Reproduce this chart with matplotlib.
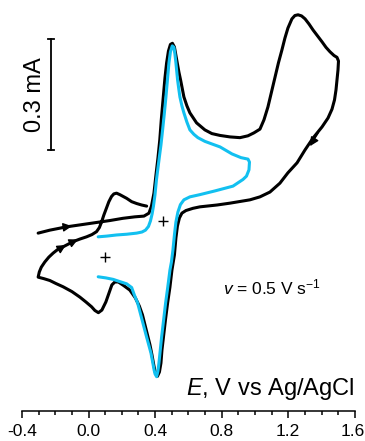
import numpy as np
import matplotlib
matplotlib.use("Agg")
import matplotlib.pyplot as plt
import matplotlib.transforms as mtransforms

plt.rcParams['font.family'] = ['Liberation Sans', 'DejaVu Sans']
plt.rcParams['mathtext.fontset'] = 'custom'
plt.rcParams['mathtext.rm'] = 'Liberation Sans'
plt.rcParams['mathtext.it'] = 'Liberation Sans:italic'
plt.rcParams['axes.unicode_minus'] = False

# black CV: scan from -0.3 V up to 1.5 V, back to -0.3 V, then second scan up to 0.35 V
black_E = [-0.303, -0.233, -0.132, -0.040, 0.048, 0.128, 0.206, 0.278, 0.333, 0.363,
           0.378, 0.393, 0.405, 0.417, 0.428, 0.437, 0.449, 0.459, 0.469, 0.480,
           0.492, 0.504, 0.516, 0.525, 0.533, 0.543, 0.553, 0.573, 0.591, 0.609,
           0.649, 0.699, 0.741, 0.790, 0.850, 0.910, 0.958, 0.994, 1.030, 1.054,
           1.078, 1.099, 1.120, 1.141, 1.162, 1.180, 1.198, 1.222, 1.240, 1.259,
           1.280, 1.301, 1.325, 1.349, 1.376, 1.403, 1.427, 1.451, 1.475, 1.493,
           1.502, 1.499, 1.493, 1.487, 1.478, 1.463, 1.439, 1.403, 1.349, 1.301,
           1.253, 1.198, 1.150, 1.090, 1.030, 0.970, 0.850, 0.772, 0.669, 0.627,
           0.585, 0.561, 0.546, 0.534, 0.525, 0.516, 0.501, 0.489, 0.475, 0.462,
           0.450, 0.441, 0.435, 0.426, 0.414, 0.402, 0.393, 0.381, 0.369, 0.354,
           0.339, 0.324, 0.305, 0.281, 0.248, 0.212, 0.179, 0.158, 0.140, 0.125,
           0.104, 0.080, 0.059, 0.038, 0.018, -0.016, -0.052, -0.100, -0.153, -0.197,
           -0.233, -0.269, -0.303,
           -0.296, -0.284, -0.263, -0.239, -0.213, -0.185, -0.153, -0.093, -0.052, -0.012,
           0.020, 0.048, 0.065, 0.078, 0.092, 0.108, 0.122, 0.138, 0.152, 0.168,
           0.188, 0.229, 0.259, 0.289, 0.319, 0.349]
black_I = [-0.049, -0.041, -0.032, -0.026, -0.020, -0.015, -0.009, -0.005, -0.003, 0.005,
           0.024, 0.059, 0.108, 0.154, 0.203, 0.257, 0.319, 0.370, 0.411, 0.443,
           0.461, 0.464, 0.454, 0.432, 0.411, 0.386, 0.365, 0.319, 0.295, 0.276,
           0.249, 0.230, 0.220, 0.215, 0.211, 0.209, 0.214, 0.222, 0.232, 0.257,
           0.292, 0.332, 0.373, 0.411, 0.446, 0.478, 0.505, 0.530, 0.539, 0.541,
           0.538, 0.530, 0.516, 0.500, 0.484, 0.468, 0.453, 0.441, 0.431, 0.426,
           0.416, 0.392, 0.365, 0.338, 0.311, 0.286, 0.262, 0.238, 0.208, 0.176,
           0.141, 0.114, 0.086, 0.062, 0.049, 0.041, 0.032, 0.027, 0.022, 0.018,
           0.012, 0.005, -0.008, -0.030, -0.062, -0.108, -0.149, -0.195, -0.238, -0.284,
           -0.330, -0.365, -0.400, -0.424, -0.436, -0.427, -0.408, -0.378, -0.351, -0.324,
           -0.297, -0.270, -0.246, -0.224, -0.203, -0.191, -0.181, -0.181, -0.189, -0.208,
           -0.235, -0.257, -0.264, -0.258, -0.248, -0.235, -0.222, -0.207, -0.194, -0.185,
           -0.177, -0.172, -0.168,
           -0.154, -0.141, -0.127, -0.114, -0.103, -0.093, -0.086, -0.072, -0.065, -0.059,
           -0.053, -0.045, -0.034, -0.019, 0.000, 0.019, 0.036, 0.050, 0.057, 0.059,
           0.055, 0.045, 0.036, 0.031, 0.027, 0.024]

# cyan CV: 0.06 V to 0.97 V
cyan_E = [0.058, 0.110, 0.168, 0.229, 0.289, 0.321, 0.342, 0.360, 0.372, 0.382,
          0.390, 0.399, 0.408, 0.417, 0.427, 0.435, 0.445, 0.455, 0.465, 0.474,
          0.483, 0.492, 0.503, 0.513, 0.519, 0.525, 0.535, 0.543, 0.549, 0.561,
          0.573, 0.591, 0.609, 0.633, 0.657, 0.699, 0.741, 0.790, 0.862, 0.916,
          0.958, 0.967, 0.964, 0.949, 0.928, 0.868, 0.759, 0.669, 0.609, 0.573,
          0.552, 0.537, 0.525, 0.516, 0.507, 0.498, 0.489, 0.476, 0.463, 0.451,
          0.439, 0.431, 0.423, 0.417, 0.409, 0.400, 0.394, 0.385, 0.375, 0.349,
          0.322, 0.295, 0.275, 0.259, 0.229, 0.188, 0.148, 0.104, 0.058]
cyan_I = [-0.059, -0.057, -0.054, -0.052, -0.049, -0.046, -0.041, -0.031, -0.016, 0.003,
          0.024, 0.054, 0.095, 0.127, 0.162, 0.189, 0.230, 0.273, 0.319, 0.365,
          0.411, 0.441, 0.457, 0.453, 0.435, 0.411, 0.365, 0.338, 0.319, 0.295,
          0.276, 0.251, 0.230, 0.218, 0.209, 0.199, 0.192, 0.184, 0.165, 0.155,
          0.151, 0.143, 0.122, 0.105, 0.096, 0.078, 0.065, 0.055, 0.049, 0.041,
          0.028, 0.008, -0.019, -0.054, -0.095, -0.127, -0.149, -0.195, -0.238, -0.284,
          -0.330, -0.365, -0.400, -0.422, -0.437, -0.430, -0.419, -0.397, -0.373, -0.330,
          -0.284, -0.238, -0.216, -0.196, -0.186, -0.180, -0.174, -0.170, -0.167]

# scan direction arrows (tail, tip)
arrows = [((-0.180, -0.035), (-0.100, -0.030)),
          ((-0.195, -0.097), (-0.136, -0.081)),
          ((-0.120, -0.078), (-0.064, -0.066)),
          ((1.379, 0.221), (1.331, 0.186))]

plus_E = [0.447, 0.098]
plus_I = [-0.016, -0.114]

xticks = [-0.4, 0.0, 0.4, 0.8, 1.2, 1.6]
xticklabels = ["-0.4", "0.0", "0.4", "0.8", "1.2", "1.6"]

fig = plt.figure(figsize=(3.65, 4.41), dpi=100)
ax = fig.add_axes([22 / 365, 30 / 441, 332.8 / 365, 411 / 441])

ax.plot(black_E, black_I, color='k', lw=2.2, solid_joinstyle='round', solid_capstyle='round')
ax.plot(cyan_E, cyan_I, color='#12C0F0', lw=2.2, solid_joinstyle='round', solid_capstyle='round')

for tail, tip in arrows:
    ax.annotate('', xy=tip, xytext=tail,
                arrowprops=dict(arrowstyle='-|>', color='k', lw=1,
                                mutation_scale=13, shrinkA=0, shrinkB=0))

ax.plot(plus_E, plus_I, '+', color='k', ms=7, mew=1)

# scale bar 0.3 mA
ax.plot([-0.227, -0.227], [0.176, 0.476], color='k', lw=1.3)
ax.plot([-0.245, -0.209], [0.176, 0.176], color='k', lw=1.3)
ax.plot([-0.245, -0.209], [0.476, 0.476], color='k', lw=1.3)
ax.text(-0.323, 0.326, '0.3 mA', rotation=90, fontsize=17, ha='center', va='center')

ax.text(0.809, -0.197, r'$v$ = 0.5 V s$^{-1}$', fontsize=12.5, ha='left', va='center')
ax.text(1.597, -0.470, r'$E$, V vs Ag/AgCl', fontsize=17, ha='right', va='center')

ax.set_xlim(-0.4, 1.6)
ax.set_ylim(-0.5297, 0.581)
ax.set_xticks(xticks)
ax.set_xticklabels(xticklabels)
ax.set_xticks(np.arange(-0.4, 1.61, 0.1), minor=True)
ax.tick_params(axis='x', which='major', length=5, width=1.1, labelsize=12.5, pad=4)
ax.tick_params(axis='x', which='minor', length=3, width=1.1)
ax.set_yticks([])
for side in ['top', 'right', 'left']:
    ax.spines[side].set_visible(False)
ax.spines['bottom'].set_linewidth(1.1)
ax.patch.set_alpha(0)

# keep the last tick label inside the picture
last = ax.get_xticklabels()[-1]
last.set_horizontalalignment('right')
last.set_transform(last.get_transform() +
                   mtransforms.ScaledTranslation(10 / 100, 0, fig.dpi_scale_trans))

fig.savefig('out.png', dpi=100)
